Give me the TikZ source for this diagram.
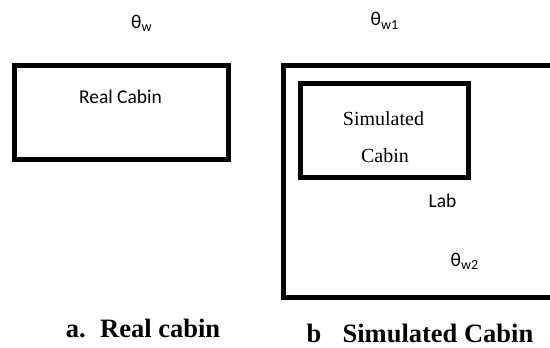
\documentclass[tikz,border=0pt]{standalone}
\usepackage{fontspec}
\setmainfont{Carlito}
\newfontfamily\tnr{Liberation Serif}
\tikzset{
  box/.style={draw=black, line width=5pt, fill=none, inner sep=0pt},
  lbl/.style={inner sep=0pt, font=\fontsize{19.5}{22}\selectfont},
  serif/.style={inner sep=0pt, font=\tnr\fontsize{20}{24}\selectfont},
  captxt/.style={inner sep=0pt, anchor=base, font=\tnr\bfseries\fontsize{26.5}{30}\selectfont},
}
\newcommand{\thw}[1]{θ\raisebox{-0.35ex}{\fontsize{14}{16}\selectfont #1}}
\begin{document}
\begin{tikzpicture}[x=1pt,y=-1pt]
\useasboundingbox (0,0) rectangle (550,348);
\clip (0,0) rectangle (550,348);
% real cabin
\node[box, minimum width=214pt, minimum height=94.5pt] (real) at (121.5,112.25) {};
\node[lbl] (realtxt) at (120.5,97) {Real Cabin};
\node[lbl, anchor=base west] (thw) at (131,28) {\thw{w}};
% lab
\node[box, minimum width=280pt, minimum height=232.5pt] (lab) at (423,181.25) {};
\node[box, minimum width=168pt, minimum height=93.5pt] (sim) at (384.5,130.25) {};
\node[serif, anchor=base] (simtxt1) at (383.5,125) {Simulated};
\node[serif, anchor=base] (simtxt2) at (385,162) {Cabin};
\node[lbl] (labtxt) at (442.5,201) {Lab};
\node[lbl, anchor=base west] (thw1) at (370.5,26) {\thw{w1}};
\node[lbl, anchor=base west] (thw2) at (450.5,266) {\thw{w2}};
% captions
\node[captxt] (capa) at (143,337) {a.\hspace{0.55em}Real cabin};
\node[captxt] (capb) at (420,342) {b\hspace{0.8em}Simulated Cabin};
\end{tikzpicture}
\end{document}
